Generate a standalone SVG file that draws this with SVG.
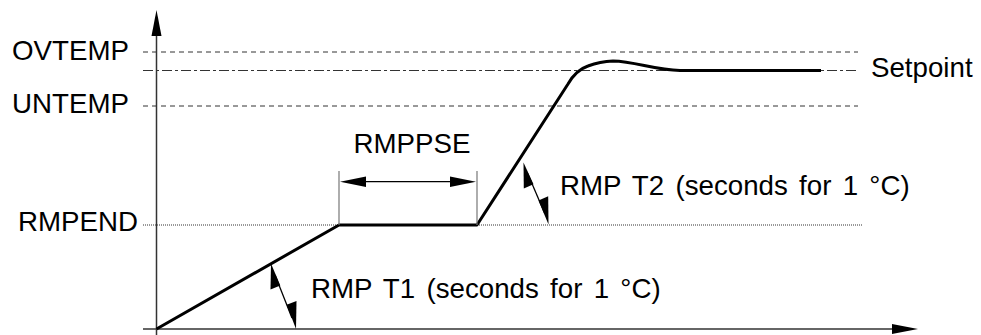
<svg xmlns="http://www.w3.org/2000/svg" width="981" height="335" viewBox="0 0 981 335">
<defs>
<style>
text{font-family:"Liberation Sans",Arial,sans-serif;font-size:27.7px;fill:#000}
.wide{word-spacing:3.6px}
.axis{stroke:#333;stroke-width:1.5;fill:none}
.dash{stroke:#333;stroke-width:1;stroke-dasharray:5,4;fill:none}
.dashdot{stroke:#333;stroke-width:1.2;stroke-dasharray:10,3,3,3;fill:none}
.dot{stroke:#333;stroke-width:1;stroke-dasharray:1,1;fill:none}
.curve{stroke:#000;stroke-width:3;fill:none;stroke-linejoin:round}
.ext{stroke:#777;stroke-width:1.2;fill:none}
.dim{stroke:#000;stroke-width:1.3;fill:none}
.head{fill:#000}
</style>
</defs>
<g id="guides">
<line class="dash" x1="143" y1="52" x2="858" y2="52"/>
<line class="dashdot" x1="143" y1="70.5" x2="858" y2="70.5"/>
<line class="dash" x1="143" y1="106" x2="858" y2="106"/>
<line class="dot" x1="143" y1="225" x2="862" y2="225"/>
</g>
<g id="axes">
<line class="axis" x1="156.5" y1="335" x2="156.5" y2="30"/>
<polygon class="head" points="156.5,10 151.5,36 161.5,36"/>
<line class="axis" x1="143" y1="329" x2="895" y2="329"/>
<polygon class="head" points="918,329 892,324 892,334"/>
</g>
<g id="labels">
<text x="129" y="60" text-anchor="end">OVTEMP</text>
<text x="129" y="113" text-anchor="end">UNTEMP</text>
<text x="138" y="231" text-anchor="end">RMPEND</text>
<text x="871" y="77">Setpoint</text>
</g>
<g id="profile">
<path class="curve" d="M156.5,329 L339,225 L477,225 L568,84 Q576,70 588,66 Q600,61.5 613,61 C635,61.5 655,70 680,70.5 L821,70.5"/>
</g>
<g id="rmppse">
<line class="ext" x1="339" y1="171" x2="339" y2="225"/>
<line class="ext" x1="477" y1="171" x2="477" y2="225"/>
<line class="dim" x1="360" y1="181.7" x2="456" y2="181.7"/>
<polygon class="head" points="340,181.7 366,176.5 366,187"/>
<polygon class="head" points="476,181.7 450,176.5 450,187"/>
<text x="412" y="153" text-anchor="middle">RMPPSE</text>
</g>
<g id="rmpt1">
<line class="dim" x1="275" y1="275" x2="292" y2="318"/>
<polygon class="head" points="271,263.5 270.5,289.5 280.3,285.6"/>
<polygon class="head" points="296,329 286.7,304.8 296.5,300.9"/>
<text class="wide" x="311" y="298">RMP T1 (seconds for 1 °C)</text>
</g>
<g id="rmpt2">
<line class="dim" x1="527" y1="172" x2="545" y2="214"/>
<polygon class="head" points="523.5,162.5 523.8,188.5 533.5,184.3"/>
<polygon class="head" points="548.5,224.5 538.5,200.5 548.2,196.3"/>
<text class="wide" x="560" y="195">RMP T2 (seconds for 1 °C)</text>
</g>
</svg>
